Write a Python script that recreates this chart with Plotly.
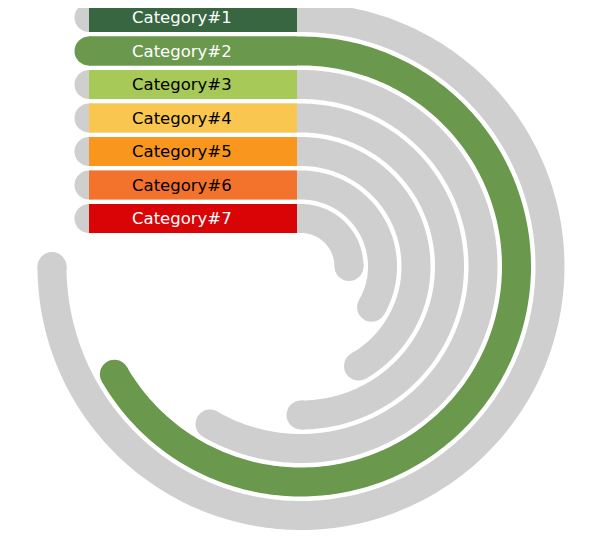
import numpy as np
import plotly.graph_objects as go

# -----------------------------------------------------------
# data
# -----------------------------------------------------------
categories = ["Category#1", "Category#2", "Category#3", "Category#4",
              "Category#5", "Category#6", "Category#7"]
# sweep of each track, degrees clockwise from 12 o'clock
sweep_deg = [270, 240, 210, 180, 150, 120, 90]
colors = ["#386641", "#6a994e", "#a7c957", "#f9c74f",
          "#f8961e", "#f3722c", "#d90406"]
text_colors = ["white", "white", "black", "black", "black", "black", "white"]
highlight = "Category#2"

# -----------------------------------------------------------
# geometry (axes are set up in page pixel units)
# -----------------------------------------------------------
W, H = 609, 541
PAD = 8                 # default body margin of the html page
CX, CY = 301, 266.5     # arc centre
R0 = 249                # radius of outer track
STEP = 33.5             # distance between tracks
BAR_W = 29              # track thickness (px)
X_START = 89            # where the straight part begins
LABEL_END = 297         # right edge of the coloured label box
TEXT_X = 130
GRAY = "#cfcfcf"

fig = go.Figure()

# tracks (straight part + arc) with round ends
for i, (cat, sw) in enumerate(zip(categories, sweep_deg)):
    r = R0 - i * STEP
    y0 = CY - r
    th = np.radians(np.linspace(0, sw, 240))
    xs = np.concatenate([[X_START], CX + r * np.sin(th)])
    ys = np.concatenate([[y0], CY - r * np.cos(th)])
    c = colors[i] if cat == highlight else GRAY

    fig.add_trace(go.Scatter(x=xs, y=ys, mode="lines",
                             line=dict(color=c, width=BAR_W, simplify=False),
                             hoverinfo="skip"))
    # round caps
    fig.add_trace(go.Scatter(x=[xs[0], xs[-1]], y=[ys[0], ys[-1]], mode="markers",
                             marker=dict(color=c, size=BAR_W, line=dict(width=0)),
                             hoverinfo="skip"))

# coloured label boxes + text
for i, cat in enumerate(categories):
    r = R0 - i * STEP
    y0 = CY - r
    fig.add_trace(go.Scatter(x=[X_START, LABEL_END], y=[y0, y0], mode="lines",
                             line=dict(color=colors[i], width=BAR_W),
                             hoverinfo="skip"))
    fig.add_annotation(x=TEXT_X, y=y0, text=cat, showarrow=False,
                       xanchor="left", yanchor="middle",
                       font=dict(family="DejaVu Sans", size=16.5, color=text_colors[i]))

fig.update_layout(
    width=W - PAD, height=H - PAD,
    margin=dict(l=0, r=0, t=0, b=0),
    paper_bgcolor="white", plot_bgcolor="white",
    showlegend=False,
    xaxis=dict(range=[PAD, W], visible=False, fixedrange=True),
    yaxis=dict(range=[H, PAD], visible=False, fixedrange=True),
)

fig.write_html("out.html")
